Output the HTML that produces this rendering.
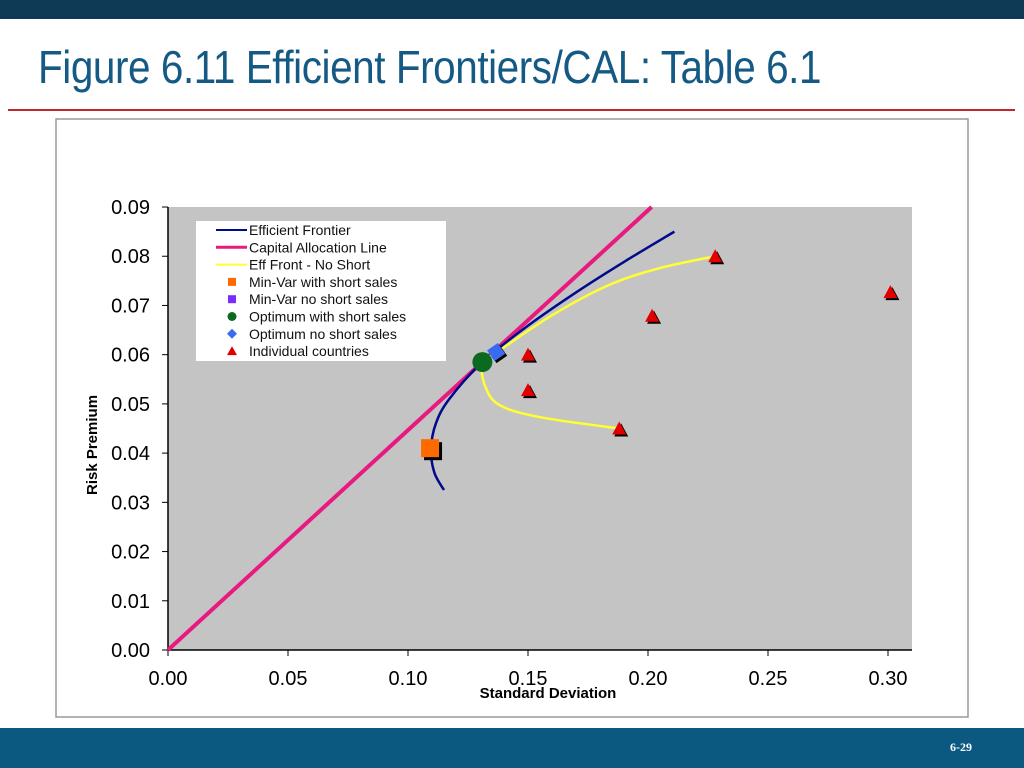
<!DOCTYPE html>
<html><head><meta charset="utf-8"><style>
body{margin:0;width:1024px;height:768px;overflow:hidden;background:#fff;font-family:"Liberation Sans",sans-serif;position:relative}
#topbar{position:absolute;left:0;top:0;width:1024px;height:19px;background:#0e3a55}
#title{position:absolute;left:38px;top:40px;font-size:46px;color:#155a84;white-space:nowrap;transform:scaleX(0.88);transform-origin:left top;letter-spacing:-0.5px}
#rule{position:absolute;left:8px;top:109px;width:1007px;height:2px;background:#c0282d}
#botbar{position:absolute;left:0;top:728px;width:1024px;height:40px;background:#0b5880}
#pnum{position:absolute;right:52px;top:740px;color:#fff;font:bold 12px "Liberation Serif",serif}
svg{position:absolute;left:0;top:0}
</style></head><body>
<div id="topbar"></div>
<div id="title">Figure 6.11 Efficient Frontiers/CAL: Table 6.1</div>
<div id="rule"></div>
<svg id="chart" width="1024" height="768">
<rect x="56" y="119" width="912" height="598" fill="#fff" stroke="#999" stroke-width="1.5"/>
<rect x="168" y="207" width="744" height="443" fill="#c4c4c4"/>
<g id="axes"></g><g id="series"></g>
<text x="548" y="698" text-anchor="middle" font-weight="bold" font-size="15" fill="#000">Standard Deviation</text>
<text transform="translate(97,445) rotate(-90)" text-anchor="middle" font-weight="bold" font-size="15" fill="#000">Risk Premium</text>
<g>
<rect x="196" y="221" width="250" height="140" fill="#fff"/>
</g>
<g id="legend"></g>
</svg>
<div id="botbar"></div>
<div id="pnum">6-29</div>
<script>
const xTicks=[0,0.05,0.10,0.15,0.20,0.25,0.30];
const yTicks=[0,0.01,0.02,0.03,0.04,0.05,0.06,0.07,0.08,0.09];
const effSd=[0.115,0.111,0.1096,0.1116,0.1172,0.131,0.1503,0.1711,0.1905,0.211];
const effRp=[0.0325,0.036,0.0408,0.046,0.051,0.0585,0.066,0.073,0.079,0.085];
const calSd=[0,0.2015];
const calRp=[0,0.09];
const nsSd=[0.228,0.205,0.184,0.16,0.137,0.131,0.132,0.138,0.155,0.188];
const nsRp=[0.080,0.0776,0.0742,0.068,0.0605,0.0585,0.0538,0.0498,0.0473,0.045];
const minVar=[0.1096,0.0408];
const optShort=[0.131,0.0585];
const optNoShort=[0.137,0.0605];
const ctrySd=[0.150,0.150,0.188,0.2017,0.228,0.301];
const ctryRp=[0.060,0.0528,0.045,0.0679,0.080,0.0727];
const sx=v=>168+v*2400, sy=v=>650-v*4922;
const NS='http://www.w3.org/2000/svg';
function mk(t,a,p){const e=document.createElementNS(NS,t);for(const k in a)e.setAttribute(k,a[k]);p.appendChild(e);return e;}
const ax=document.getElementById('axes'), se=document.getElementById('series'), lg=document.getElementById('legend');
let l=mk('line',{x1:168,y1:207,x2:168,y2:650,stroke:'#000','stroke-width':1.5},ax);


l=mk('line',{x1:168,y1:650,x2:912,y2:650,stroke:'#000','stroke-width':1.5},ax);


xTicks.forEach(v=>{mk('line',{x1:sx(v),y1:650,x2:sx(v),y2:656,stroke:'#000'},ax);
 const t=mk('text',{x:sx(v),y:685,'text-anchor':'middle','font-size':20,fill:'#000'},ax);t.textContent=v.toFixed(2);
 
 });
yTicks.forEach(v=>{mk('line',{x1:162,y1:sy(v),x2:168,y2:sy(v),stroke:'#000'},ax);
 const t=mk('text',{x:150,y:sy(v)+7,'text-anchor':'end','font-size':20,fill:'#000'},ax);t.textContent=v.toFixed(2);
 
 });
function path(xs,ys,c,w,name,smooth){const pts=xs.map((x,i)=>[sx(x),sy(ys[i])]);let d='M'+pts[0];
 if(smooth&&pts.length>2){for(let i=0;i<pts.length-1;i++){const p0=pts[i-1]||pts[i],p1=pts[i],p2=pts[i+1],p3=pts[i+2]||p2;
  const c1=[p1[0]+(p2[0]-p0[0])/6,p1[1]+(p2[1]-p0[1])/6],c2=[p2[0]-(p3[0]-p1[0])/6,p2[1]-(p3[1]-p1[1])/6];d+=' C'+c1+' '+c2+' '+p2;}}
 else pts.slice(1).forEach(p=>d+=' L'+p);
 const e=mk('path',{d:d,fill:'none',stroke:c,'stroke-width':w},se);
 
 }
path(calSd,calRp,'#e8197f',4,'capital-allocation-line',false);
path(effSd,effRp,'#000a8c',2.5,'efficient-frontier',true);
path(nsSd,nsRp,'#ffff33',2.5,'eff-front-no-short',true);
ctrySd.forEach((x,i)=>{const X=sx(x),Y=sy(ctryRp[i]);
 mk('polygon',{points:`${X-5},${Y+8} ${X+9},${Y+8} ${X+2},${Y-5}`,fill:'#000'},se);
 const t=mk('polygon',{points:`${X-7},${Y+6} ${X+7},${Y+6} ${X},${Y-7}`,fill:'#e00000'},se);
 
 });
{const X=sx(minVar[0]),Y=sy(minVar[1]);mk('rect',{x:X-7,y:Y-7,width:18,height:18,fill:'#000'},se);
 const r=mk('rect',{x:X-10,y:Y-10,width:18,height:18,fill:'#ff6a00'},se);
 
 }
{const X=sx(optNoShort[0]),Y=sy(optNoShort[1]);mk('rect',{x:X-5,y:Y-5,width:13,height:13,fill:'#000',transform:`rotate(-35 ${X+2} ${Y+2})`},se);
 const r=mk('rect',{x:X-7,y:Y-7,width:13,height:13,fill:'#3a6af0',transform:`rotate(-35 ${X} ${Y})`},se);
 
 }
{const X=sx(optShort[0]),Y=sy(optShort[1]);
 const c=mk('circle',{cx:X,cy:Y,r:10,fill:'#0b6a1f'},se);
 
 }
const legNames=['Efficient Frontier','Capital Allocation Line','Eff Front - No Short','Min-Var with short sales','Min-Var no short sales','Optimum with short sales','Optimum no short sales','Individual countries'];
const legColors=['#000a8c','#e8197f','#ffff33','#ff6a00','#7a2cff','#0b6a1f','#3a6af0','#e00000'];
legNames.forEach((n,i)=>{const y=230+i*17.3;const g=mk('g',{},lg);
 
 
 const c=legColors[i];
 if(i<3)mk('line',{x1:216,y1:y,x2:247,y2:y,stroke:c,'stroke-width':i==1?3:2},g);
 else if(i==3||i==4)mk('rect',{x:228,y:y-4,width:8,height:8,fill:c},g);
 else if(i==5)mk('circle',{cx:232,cy:y,r:4.5,fill:c},g);
 else if(i==6)mk('polygon',{points:`232,${y-5} 237,${y} 232,${y+5} 227,${y}`,fill:c},g);
 else mk('polygon',{points:`227,${y+4} 237,${y+4} 232,${y-5}`,fill:c},g);
 const t=mk('text',{x:249,y:y+5,'font-size':14,fill:'#111'},g);t.textContent=n;});
</script>
</body></html>
